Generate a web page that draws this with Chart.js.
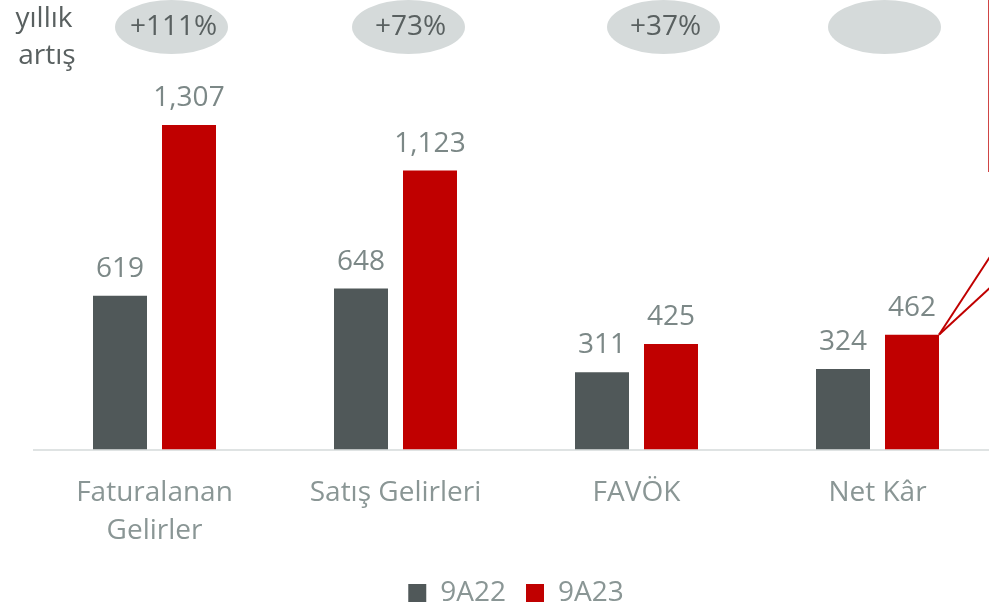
<!DOCTYPE html>
<html lang="tr">
<head>
    <meta charset="UTF-8">
    <title>9A22 / 9A23</title>
    <script src="https://cdn.jsdelivr.net/npm/chart.js"></script>
    <style>
        html, body { margin: 0; padding: 0; overflow: hidden; background: #fff; }
        #wrap { position: relative; width: 1000px; height: 617px; }
    </style>
</head>
<body>
    <div id="wrap"><canvas id="myChart"></canvas></div>

    <script>
        const categories = [['Faturalanan', 'Gelirler'], 'Satış Gelirleri', 'FAVÖK', 'Net Kâr'];
        const series9A22 = [619, 648, 311, 324];
        const series9A23 = [1307, 1123, 425, 462];
        const growthLabels = ['+111%', '+73%', '+37%', ''];
        const seriesNames = ['9A22', '9A23'];

        const FONT = "'Open Sans', sans-serif";
        const VALUE_TEXT = '#7c8887';
        const AXIS_TEXT = '#8a9695';
        const DARK_TEXT = '#596060';

        // values above bars
        const valueLabels = {
            id: 'valueLabels',
            afterDatasetsDraw(chart) {
                const ctx = chart.ctx;
                ctx.save();
                ctx.font = '28px ' + FONT;
                ctx.fillStyle = VALUE_TEXT;
                ctx.textAlign = 'center';
                ctx.textBaseline = 'alphabetic';
                chart.data.datasets.forEach((ds, i) => {
                    chart.getDatasetMeta(i).data.forEach((bar, j) => {
                        ctx.fillText(ds.data[j].toLocaleString('en-US'), bar.x, bar.y - 19);
                    });
                });
                ctx.restore();
            }
        };

        // "yıllık artış" ovals + red callout lines
        const extras = {
            id: 'extras',
            afterDraw(chart) {
                const ctx = chart.ctx;
                const xScale = chart.scales.x;
                const ovalShift = [17, 13, 27, 7];
                ctx.save();
                ctx.font = '28px ' + FONT;
                ctx.textAlign = 'center';
                ctx.textBaseline = 'alphabetic';
                ctx.fillStyle = DARK_TEXT;
                ctx.fillText('yıllık', 44, 27);
                ctx.fillText('artış', 47, 64);

                growthLabels.forEach((txt, i) => {
                    const cx = xScale.getPixelForValue(i) + ovalShift[i];
                    ctx.beginPath();
                    ctx.ellipse(cx, 27, 56.5, 27, 0, 0, Math.PI * 2);
                    ctx.fillStyle = '#d5dada';
                    ctx.fill();
                    if (txt) {
                        ctx.fillStyle = DARK_TEXT;
                        ctx.fillText(txt, cx + 2, 35);
                    }
                });

                const bar = chart.getDatasetMeta(1).data[3];
                const x0 = bar.x + bar.width / 2;
                const y0 = bar.y;
                const xr = 990;
                ctx.strokeStyle = '#c00000';
                ctx.lineWidth = 2;
                [-1.53, -0.92].forEach(slope => {
                    ctx.beginPath();
                    ctx.moveTo(x0, y0);
                    ctx.lineTo(xr, y0 + slope * (xr - x0));
                    ctx.stroke();
                });
                ctx.lineWidth = 1;
                ctx.strokeStyle = '#d04545';
                ctx.beginPath();
                ctx.moveTo(988.5, 0);
                ctx.lineTo(988.5, 172);
                ctx.stroke();
                ctx.restore();
            }
        };

        new Chart(document.getElementById('myChart'), {
            type: 'bar',
            data: {
                labels: categories,
                datasets: [{
                    label: seriesNames[0],
                    data: series9A22,
                    backgroundColor: '#505859',
                    categoryPercentage: 0.5726,
                    barPercentage: 0.7826
                }, {
                    label: seriesNames[1],
                    data: series9A23,
                    backgroundColor: '#c00000',
                    categoryPercentage: 0.5726,
                    barPercentage: 0.7826
                }]
            },
            options: {
                responsive: true,
                maintainAspectRatio: false,
                animation: false,
                layout: { padding: { left: 34, right: 2, top: 0, bottom: 0 } },
                scales: {
                    x: {
                        grid: { display: false, drawTicks: false },
                        border: { color: '#dfe3e3', width: 2 },
                        afterFit(scale) { scale.height = 109.5; },
                        ticks: {
                            color: AXIS_TEXT,
                            padding: 24.5,
                            maxRotation: 0,
                            autoSkip: false,
                            font: { family: FONT, size: 28, lineHeight: 1.357 }
                        }
                    },
                    y: { display: false, min: 0, max: 1810 }
                },
                plugins: {
                    tooltip: { enabled: false },
                    legend: {
                        position: 'bottom',
                        labels: {
                            boxWidth: 18,
                            boxHeight: 18,
                            padding: 20,
                            color: AXIS_TEXT,
                            font: { family: FONT, size: 28 }
                        }
                    }
                }
            },
            plugins: [valueLabels, extras]
        });
    </script>
</body>
</html>
